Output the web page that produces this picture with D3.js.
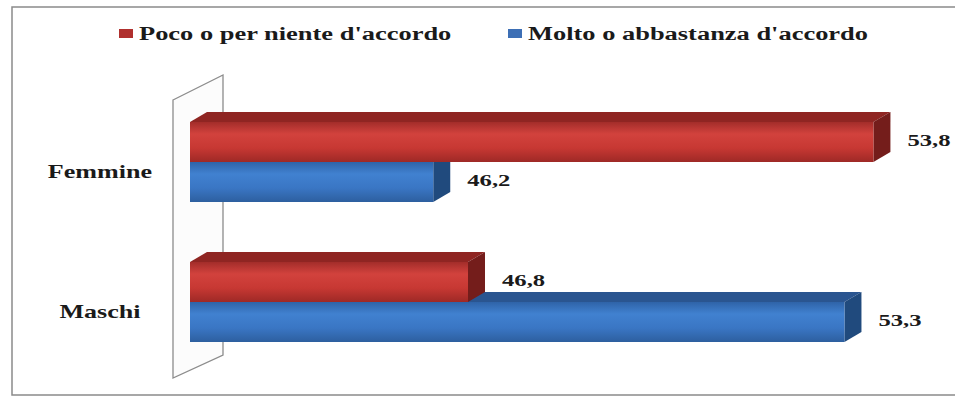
<!DOCTYPE html>
<html>
<head>
<meta charset="utf-8">
<script src="https://cdn.jsdelivr.net/npm/d3@7"></script>
<style>
  html, body { margin: 0; padding: 0; background: #fff; }
  svg { display: block; }
  text { font-family: "Liberation Serif", "Times New Roman", serif; font-weight: bold; fill: #1a1a1a; }
</style>
</head>
<body>
<svg id="chart" width="955" height="398"></svg>
<script>
// ---- data ----
const categories = ["Femmine", "Maschi"];
const seriesNames = ["Poco o per niente d'accordo", "Molto o abbastanza d'accordo"];
const pocoValues = [53.8, 46.8];
const moltoValues = [46.2, 53.3];
const seriesValues = [pocoValues, moltoValues];
const valueLabels = [["53,8", "46,8"], ["46,2", "53,3"]];

// ---- style ----
const depthX = 17, depthY = 10;
const stretch = 1.45;
const palettes = [
  { id: "red", stops: ["#a32d2a", "#d2423d", "#c73833", "#9e2926"], top: "#8f2522", side: "#741d1b", legend: "#b0302e" },
  { id: "blue", stops: ["#2f63a8", "#4181d0", "#3a76c4", "#2d5f9f"], top: "#2a5590", side: "#204a7d", legend: "#3d6fb5" }
];

const svg = d3.select("#chart");
const defs = svg.append("defs");
palettes.forEach(p => {
  const g = defs.append("linearGradient").attr("id", "grad-" + p.id)
    .attr("x1", 0).attr("y1", 0).attr("x2", 0).attr("y2", 1);
  [0, 0.3, 0.65, 1].forEach((o, i) => g.append("stop").attr("offset", o).attr("stop-color", p.stops[i]));
});

// outer border
svg.append("rect").attr("x", 12).attr("y", 7).attr("width", 960).attr("height", 388)
  .attr("fill", "#fff").attr("stroke", "#8a8a8a").attr("stroke-width", 1.5);

// scales
const x = d3.scaleLinear().domain([42, 54]).range([190, 885]);
const y = d3.scaleBand().domain(categories).range([92, 372]).paddingInner(0.4286).paddingOuter(0.2143);
const ySub = d3.scaleBand().domain(seriesNames).range([0, y.bandwidth()]);

// left wall of the 3D plot
const wallLeft = 173, wallRight = 223;
const wall = [[wallLeft, 100], [wallRight, 75], [wallRight, 355], [wallLeft, 378]];
svg.append("path").attr("d", d3.line()(wall) + "Z")
  .attr("fill", "#fcfcfc").attr("stroke", "#8c8c8c").attr("stroke-width", 1.3);

// bars: second series first so the first series sits on top
const barsG = svg.append("g");
[1, 0].forEach(si => {
  const p = palettes[si];
  categories.forEach((cat, ci) => {
    const v = seriesValues[si][ci];
    const x0 = x.range()[0], x1 = x(v);
    const y0 = y(cat) + ySub(seriesNames[si]);
    const h = ySub.bandwidth();
    const g = barsG.append("g");
    g.append("path").attr("d", d3.line()([[x0, y0], [x0 + depthX, y0 - depthY], [x1 + depthX, y0 - depthY], [x1, y0]]) + "Z")
      .attr("fill", p.top);
    g.append("path").attr("d", d3.line()([[x1, y0], [x1 + depthX, y0 - depthY], [x1 + depthX, y0 + h - depthY], [x1, y0 + h]]) + "Z")
      .attr("fill", p.side);
    g.append("rect").attr("x", x0).attr("y", y0).attr("width", x1 - x0).attr("height", h)
      .attr("fill", "url(#grad-" + p.id + ")");
  });
});

// value labels
[0, 1].forEach(si => {
  categories.forEach((cat, ci) => {
    const v = seriesValues[si][ci];
    const yc = y(cat) + ySub(seriesNames[si]) + ySub.bandwidth() / 2;
    svg.append("g").attr("transform", `translate(${x(v) + depthX + 17},${yc + 4}) scale(${stretch},1)`)
      .append("text").style("font-size", "17px").text(valueLabels[si][ci]);
  });
});

// category labels
categories.forEach(cat => {
  const yc = y(cat) + y.bandwidth() / 2;
  svg.append("g").attr("transform", `translate(100,${yc + 15.5}) scale(${stretch},1)`)
    .append("text").attr("text-anchor", "middle").style("font-size", "18px").text(cat);
});

// legend
const legendX = [119, 508];
seriesNames.forEach((name, i) => {
  const g = svg.append("g").attr("transform", `translate(${legendX[i]},0)`);
  g.append("rect").attr("x", 0).attr("y", 29).attr("width", 14).attr("height", 9).attr("fill", palettes[i].legend);
  g.append("g").attr("transform", `translate(20,40) scale(1.47,1)`)
    .append("text").style("font-size", "18px").text(name);
});
</script>
</body>
</html>
